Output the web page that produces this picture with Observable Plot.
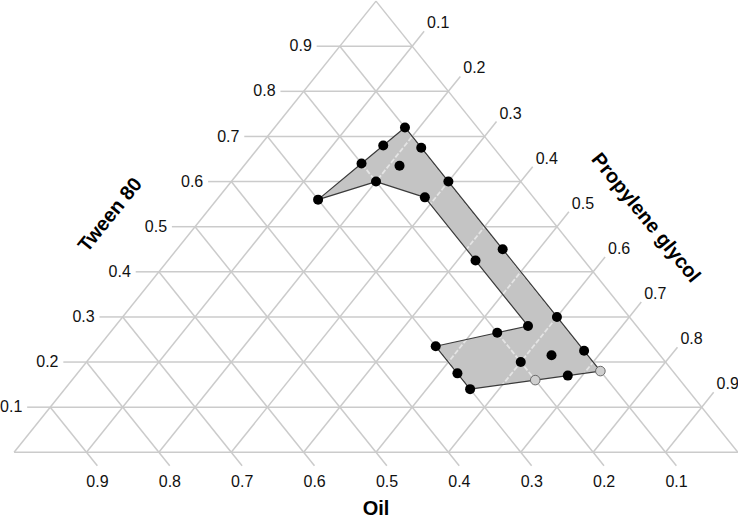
<!DOCTYPE html>
<html>
<head>
<meta charset="utf-8">
<script src="https://cdn.jsdelivr.net/npm/d3@7"></script>
<script src="https://cdn.jsdelivr.net/npm/@observablehq/plot@0.6"></script>
<style>
  body { margin: 0; background: #fff; }
  #chart svg { display: block; }
</style>
</head>
<body>
<div id="chart"></div>
<script>
// ---- Data ----
const tickValues = [0.1, 0.2, 0.3, 0.4, 0.5, 0.6, 0.7, 0.8, 0.9];
const tickLabels = ["0.1", "0.2", "0.3", "0.4", "0.5", "0.6", "0.7", "0.8", "0.9"];
const axisTitles = ["Oil", "Tween 80", "Propylene glycol"];

// Boundary points of the region, in drawing order
const boundaryOil   = [0.30, 0.20, 0.15, 0.15, 0.15, 0.20, 0.30, 0.30, 0.30, 0.20, 0.15, 0.10, 0.10, 0.10, 0.10, 0.10, 0.10, 0.10, 0.15, 0.20];
const boundaryTween = [0.56, 0.60, 0.565, 0.425, 0.28, 0.265, 0.235, 0.175, 0.14, 0.16, 0.17, 0.18, 0.225, 0.30, 0.45, 0.60, 0.675, 0.72, 0.68, 0.64];
const boundaryPG    = [0.14, 0.20, 0.285, 0.425, 0.57, 0.535, 0.465, 0.525, 0.56, 0.64, 0.68, 0.72, 0.675, 0.60, 0.45, 0.30, 0.225, 0.18, 0.17, 0.16];
const boundaryKind  = ["solid","solid","solid","solid","solid","solid","solid","solid","solid","open","solid","open","solid","solid","solid","solid","solid","solid","solid","solid"];

// Points inside the region
const innerOil   = [0.15, 0.15, 0.20];
const innerTween = [0.635, 0.215, 0.20];
const innerPG    = [0.215, 0.635, 0.60];

// ---- Ternary helpers: x = PG + Tween/2, y = Tween ----
const tx = (pg, t) => pg + t / 2;
const boundary = boundaryOil.map((o, i) => ({oil: o, tween: boundaryTween[i], pg: boundaryPG[i], kind: boundaryKind[i]}))
  .map(d => ({...d, x: tx(d.pg, d.tween), y: d.tween}));
const inner = innerOil.map((o, i) => ({oil: o, tween: innerTween[i], pg: innerPG[i]}))
  .map(d => ({...d, x: tx(d.pg, d.tween), y: d.tween}));

const levels = [0, ...tickValues];
const grid = [];
const diagonals = [];
for (const c of levels) {
  // constant Tween 80
  grid.push({x1: c / 2, y1: c, x2: 1 - c / 2, y2: c});
  // constant Propylene glycol
  const p = {x1: c, y1: 0, x2: c + (1 - c) / 2, y2: 1 - c};
  // constant Oil
  const o = {x1: 1 - c, y1: 0, x2: (1 - c) / 2, y2: 1 - c};
  grid.push(p, o);
  diagonals.push(p, o);
}

const sL = 0.032, sR = 0.033, sB = 0.03;
const ticksLeft = tickValues.map((c, i) => ({x1: c / 2, y1: c, x2: c / 2 - sL, y2: c, label: tickLabels[i]}));
const ticksRight = tickValues.map((c, i) => ({x1: (1 + c) / 2, y1: 1 - c, x2: (1 + c) / 2 + sR / 2, y2: 1 - c + sR, label: tickLabels[i]}));
const ticksBottom = tickValues.map((c, i) => ({x1: 1 - c, y1: 0, x2: 1 - c + sB / 2, y2: -sB, label: tickLabels[i]}));

const gridColor = "#cbcbcb";
const font = "Arial, 'Liberation Sans', sans-serif";

const chart = Plot.plot({
  width: 738,
  height: 518,
  marginLeft: 13.6,
  marginRight: 0.6,
  marginTop: 0.6,
  marginBottom: 66.2,
  style: {fontFamily: font, background: "#fff"},
  x: {domain: [0, 1], axis: null},
  y: {domain: [0, 1], axis: null},
  marks: [
    Plot.link(grid, {x1: "x1", y1: "y1", x2: "x2", y2: "y2", stroke: gridColor, strokeWidth: 1.5}),
    Plot.link(ticksLeft, {x1: "x1", y1: "y1", x2: "x2", y2: "y2", stroke: gridColor, strokeWidth: 1.5}),
    Plot.link(ticksRight, {x1: "x1", y1: "y1", x2: "x2", y2: "y2", stroke: gridColor, strokeWidth: 1.5}),
    Plot.link(ticksBottom, {x1: "x1", y1: "y1", x2: "x2", y2: "y2", stroke: gridColor, strokeWidth: 1.5}),
    Plot.line(boundary, {x: "x", y: "y", curve: "linear-closed", fill: "#c4c4c4", stroke: "none"}),
    Plot.link(diagonals, {x1: "x1", y1: "y1", x2: "x2", y2: "y2", stroke: "#fff", strokeOpacity: 0.55, strokeWidth: 1.8, strokeDasharray: "5,2"}),
    Plot.line(boundary, {x: "x", y: "y", curve: "linear-closed", fill: "none", stroke: "#3a3a3a", strokeWidth: 1.2}),
    Plot.dot(boundary.filter(d => d.kind === "solid"), {x: "x", y: "y", r: 5, fill: "#000", stroke: "none"}),
    Plot.dot(inner, {x: "x", y: "y", r: 5, fill: "#000", stroke: "none"}),
    Plot.dot(boundary.filter(d => d.kind === "open"), {x: "x", y: "y", r: 4.8, fill: "#cfcfcf", stroke: "#6a6a6a", strokeWidth: 1}),
    Plot.text(ticksLeft, {x: "x1", y: "y1", text: "label", dx: -28, textAnchor: "end", fontSize: 16, fill: "#111"}),
    Plot.text(ticksRight, {x: "x1", y: "y1", text: "label", dx: 26, dy: -23, textAnchor: "middle", fontSize: 16, fill: "#111"}),
    Plot.text(ticksBottom, {x: "x1", y: "y1", text: "label", dx: 11, dy: 30, textAnchor: "middle", fontSize: 16, fill: "#111"}),
    Plot.text([{x: 0.5, y: 0, t: axisTitles[0]}], {x: "x", y: "y", text: "t", dy: 56, fontSize: 20, fontWeight: "bold", fill: "#000"}),
    Plot.text([{x: 0.25, y: 0.5, t: axisTitles[1]}], {x: "x", y: "y", text: "t", dx: -85, dy: -12, rotate: -51, fontSize: 20, fontWeight: "bold", fill: "#000"}),
    Plot.text([{x: 0.75, y: 0.5, t: axisTitles[2]}], {x: "x", y: "y", text: "t", dx: 89, dy: -9, rotate: 51, fontSize: 20, fontWeight: "bold", fill: "#000"})
  ]
});

// Clip the light diagonal overlay to the shaded region
const lineGroups = chart.querySelectorAll('g[aria-label="line"]');
const linkGroups = chart.querySelectorAll('g[aria-label="link"]');
if (lineGroups.length && linkGroups.length) {
  const regionPath = lineGroups[0].querySelector("path");
  const overlay = linkGroups[linkGroups.length - 1];
  const ns = "http://www.w3.org/2000/svg";
  const defs = document.createElementNS(ns, "defs");
  const clip = document.createElementNS(ns, "clipPath");
  clip.setAttribute("id", "region-clip");
  const cp = document.createElementNS(ns, "path");
  cp.setAttribute("d", regionPath.getAttribute("d"));
  const t = lineGroups[0].getAttribute("transform");
  if (t) cp.setAttribute("transform", t);
  clip.appendChild(cp);
  defs.appendChild(clip);
  chart.insertBefore(defs, chart.firstChild);
  const wrap = document.createElementNS(ns, "g");
  wrap.setAttribute("clip-path", "url(#region-clip)");
  overlay.parentNode.insertBefore(wrap, overlay);
  wrap.appendChild(overlay);
}
document.getElementById("chart").appendChild(chart);
</script>
</body>
</html>
